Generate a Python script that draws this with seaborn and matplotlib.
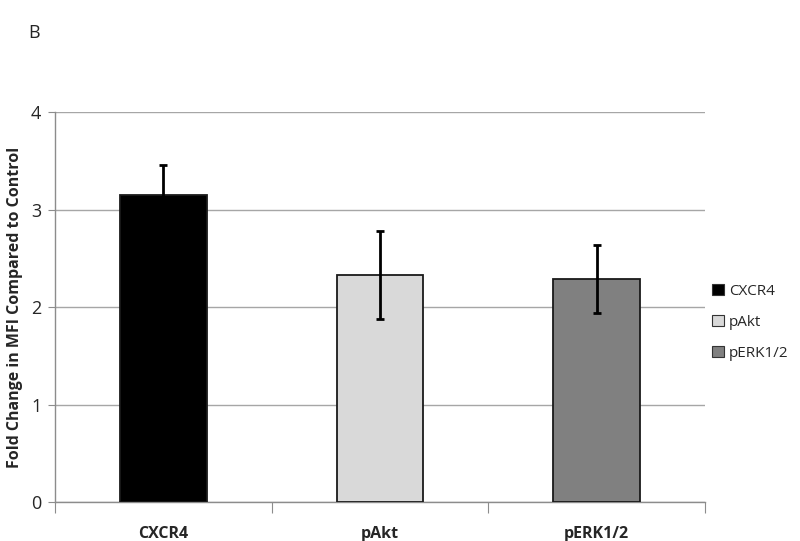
import seaborn as sns
import pandas as pd
import numpy as np
import matplotlib.pyplot as plt
from matplotlib.patches import Patch

markers = ["CXCR4", "pAkt", "pERK1/2"]
fold_change = [3.15, 2.33, 2.29]
sem = [0.31, 0.45, 0.35]
colors = ["#000000", "#d9d9d9", "#808080"]

df = pd.DataFrame({"marker": markers, "fold": fold_change, "err": sem})

sns.set_style("white")
plt.rcParams['font.family'] = ['Open Sans', 'DejaVu Sans']

fig = plt.figure(figsize=(8, 5.41), dpi=100)
ax = fig.add_axes([0.069, 0.072, 0.812, 0.721])

sns.barplot(data=df, x="marker", y="fold", hue="marker", palette=colors,
            dodge=False, width=0.4, edgecolor="#1a1a1a", linewidth=1.3,
            legend=False, ax=ax, zorder=3)
ax.errorbar(np.arange(len(markers)), df["fold"], yerr=df["err"], fmt="none",
            ecolor="black", elinewidth=2, capsize=3, capthick=2, zorder=4)

ax.set_xlim(-0.5, 2.5)
ax.set_ylim(0, 4)
ax.set_yticks([0, 1, 2, 3, 4])
ax.yaxis.grid(True, color="#a6a6a6", linewidth=1, zorder=0)
ax.set_axisbelow(True)
for s in ["top", "right"]:
    ax.spines[s].set_visible(False)
for s in ["left", "bottom"]:
    ax.spines[s].set_color("#8c8c8c")
    ax.spines[s].set_linewidth(1)

# category boundaries get the tick marks, names sit in between
ax.set_xticks([-0.5, 0.5, 1.5, 2.5], minor=False)
ax.set_xticklabels([])
ax.set_xticks([0, 1, 2], minor=True)
ax.set_xticklabels(markers, minor=True, fontweight="bold", fontsize=11.5)
ax.tick_params(axis="x", which="major", length=8, color="#8c8c8c", direction="out", bottom=True)
ax.tick_params(axis="x", which="minor", length=0, pad=17)
ax.tick_params(axis="y", length=5, color="#8c8c8c", direction="out", left=True, labelsize=13, pad=5)
ax.set_xlabel("")
ax.set_ylabel("Fold Change in MFI Compared to Control", fontweight="bold", fontsize=11.5, labelpad=6)

handles = [Patch(facecolor=c, edgecolor="#333333", linewidth=0.8) for c in colors]
ax.legend(handles, markers, loc="center left", bbox_to_anchor=(1.0, 0.46),
          frameon=False, fontsize=11, handlelength=0.75, handleheight=0.75,
          handletextpad=0.35, labelspacing=1.05, borderaxespad=0.3, borderpad=0.2)

fig.text(0.035, 0.93, "B", fontsize=13)

plt.savefig("out.png", dpi=100)
plt.close("all")
